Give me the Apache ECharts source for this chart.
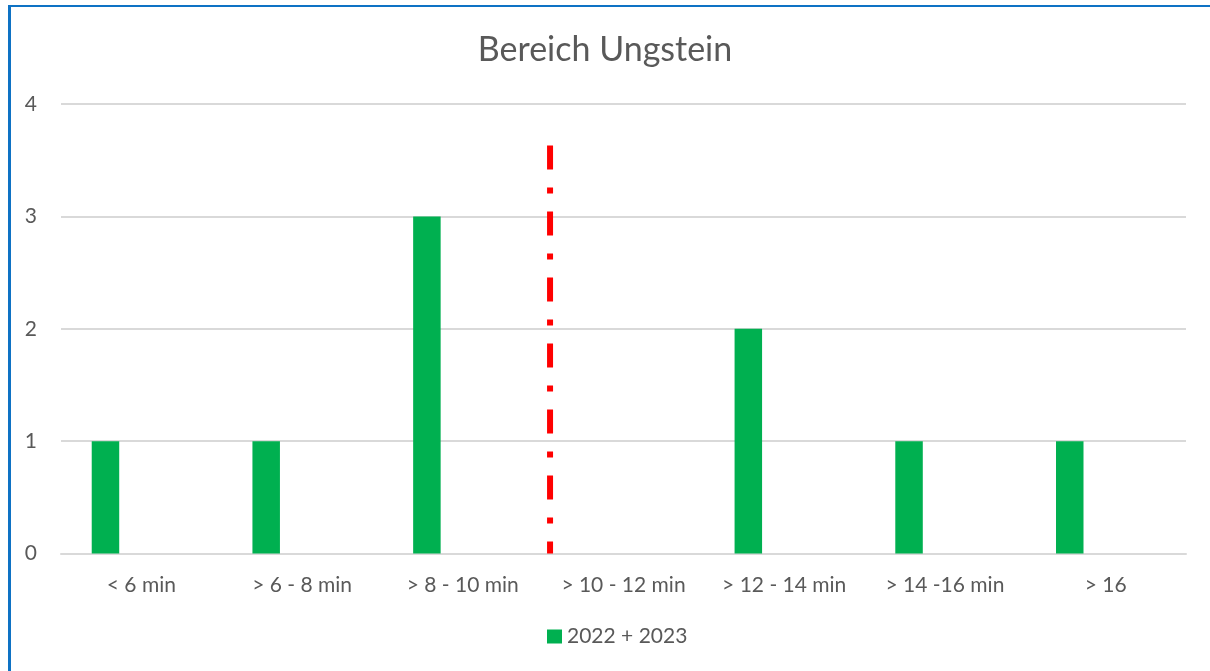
<!DOCTYPE html>
<html>
<head>
<meta charset="utf-8">
<script src="https://cdn.jsdelivr.net/npm/echarts@6/dist/echarts.min.js"></script>
<style>
html,body{margin:0;padding:0;background:#fff;}
#frame{position:absolute;left:8px;top:5px;width:1300px;height:800px;border-top:2px solid #0E72C4;border-left:3px solid #0E72C4;box-sizing:border-box;pointer-events:none;z-index:2;}
#chart{position:absolute;left:0;top:0;width:1210px;height:671px;}
</style>
</head>
<body>
<div id="chart"></div>
<div id="frame"></div>
<script>
const titleText = 'Bereich Ungstein';
const categories = ['< 6 min', '> 6 - 8 min', '> 8 - 10 min', '> 10 - 12 min', '> 12 - 14 min', '> 14 -16 min', '> 16'];
const seriesName = '2022 + 2023';
const counts = [1, 1, 3, 0, 2, 1, 1];
const emptySeries = [null, null, null, null, null, null, null];
const yTicks = [0, 1, 2, 3, 4];
// red reference line: position on a 0..6 category-index scale, and its top value
const refLineX = 2.543;
const refLineTop = 3.63;

const txt = '#595959';
const font = 'Lato';
const chart = echarts.init(document.getElementById('chart'), null, {renderer: 'canvas'});
chart.setOption({
  animation: false,
  backgroundColor: '#fff',
  title: {
    text: titleText, left: 'center', top: 28,
    textStyle: {fontFamily: font, fontSize: 34, fontWeight: 'normal', color: txt}
  },
  legend: {
    data: [seriesName], bottom: 19, left: 542,
    icon: 'rect', itemWidth: 15, itemHeight: 14, itemGap: 6,
    textStyle: {fontFamily: font, fontSize: 21, color: txt}
  },
  grid: {left: 61, right: 24, top: 104, bottom: 117.5},
  xAxis: [{
    type: 'category', data: categories,
    axisLine: {show: true, lineStyle: {color: '#d9d9d9', width: 2}},
    axisTick: {show: false},
    axisLabel: {fontFamily: font, fontSize: 21, color: txt, margin: 21, interval: 0}
  }, {
    type: 'value', min: -0.5, max: 6.5, show: false
  }],
  yAxis: {
    type: 'value', min: yTicks[0], max: yTicks[yTicks.length - 1], interval: 1,
    axisLine: {show: false}, axisTick: {show: false},
    axisLabel: {fontFamily: font, fontSize: 21, color: txt, margin: 24},
    splitLine: {lineStyle: {color: '#d9d9d9', width: 2}}
  },
  series: [{
    name: seriesName, type: 'bar', data: counts,
    barWidth: 27.5, barGap: '161%',
    itemStyle: {color: '#00B050'}
  }, {
    name: 'leer', type: 'bar', data: emptySeries, barWidth: 27.5
  }, {
    name: 'Grenze', type: 'line', xAxisIndex: 1,
    data: [[refLineX, refLineTop], [refLineX, 0]],
    symbol: 'none', silent: true, z: 5,
    lineStyle: {color: '#FF0000', width: 6, type: [24, 18, 6, 18], cap: 'butt'}
  }]
});
</script>
</body>
</html>
